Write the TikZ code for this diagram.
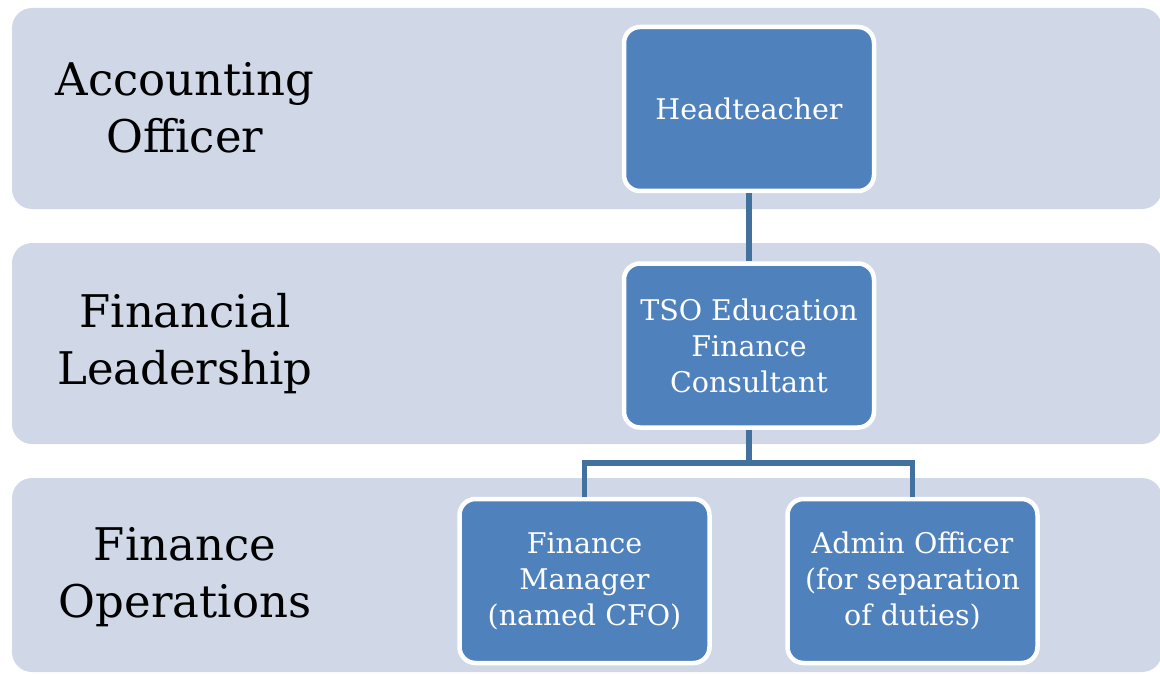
\documentclass[tikz,border=0pt]{standalone}
\usepackage{fontspec}
\setmainfont{DejaVu Serif}
\definecolor{bandfill}{HTML}{D0D8E8}
\definecolor{boxfill}{HTML}{4F81BD}
\definecolor{linkline}{HTML}{41719C}

\begin{document}
\begin{tikzpicture}[x=1pt, y=-1pt,
  band/.style={fill=bandfill, rounded corners=20pt},
  role/.style={draw=white, line width=4.5pt, fill=boxfill, rounded corners=16pt,
    minimum width=250pt, minimum height=164pt, text=white, align=center,
    font=\fontsize{28.5}{36}\selectfont},
  level/.style={align=center, font=\fontsize{45}{57}\selectfont},
  link/.style={draw=linkline, line width=5.5pt}]
\useasboundingbox (0,0) rectangle (1160,674);
\begin {scope}
  % bands
  \fill [band] (12,8) rectangle (1162,209);
  \fill [band] (12,243) rectangle (1162,444);
  \fill [band] (12,478) rectangle (1162,672);
  % level labels
  \node [level] (lvlacc) at (185,108) {Accounting\\Officer};
  \node [level] (lvllead) at (185,344) {Financial\\Leadership};
  \node [level] (lvlops) at (185,577) {Finance\\Operations};
  % roles
  \node [role] (head) at (749,109) {Headteacher};
  \node [role] (tso) at (749,345.5) {TSO Education\\Finance\\Consultant};
  \node [role] (fm) at (584.5,581) {Finance\\Manager\\(named CFO)};
  \node [role] (ao) at (912.5,581) {Admin Officer\\(for separation\\of duties)};
  % links
  \coordinate (split) at (749,463);
  \draw [link] (head.south) -- (tso.north);
  \draw [link] (tso.south) -- (split);
  \draw [link] (fm.north) |- (split) -| (ao.north);
\end {scope}
\end{tikzpicture}
\end{document}
